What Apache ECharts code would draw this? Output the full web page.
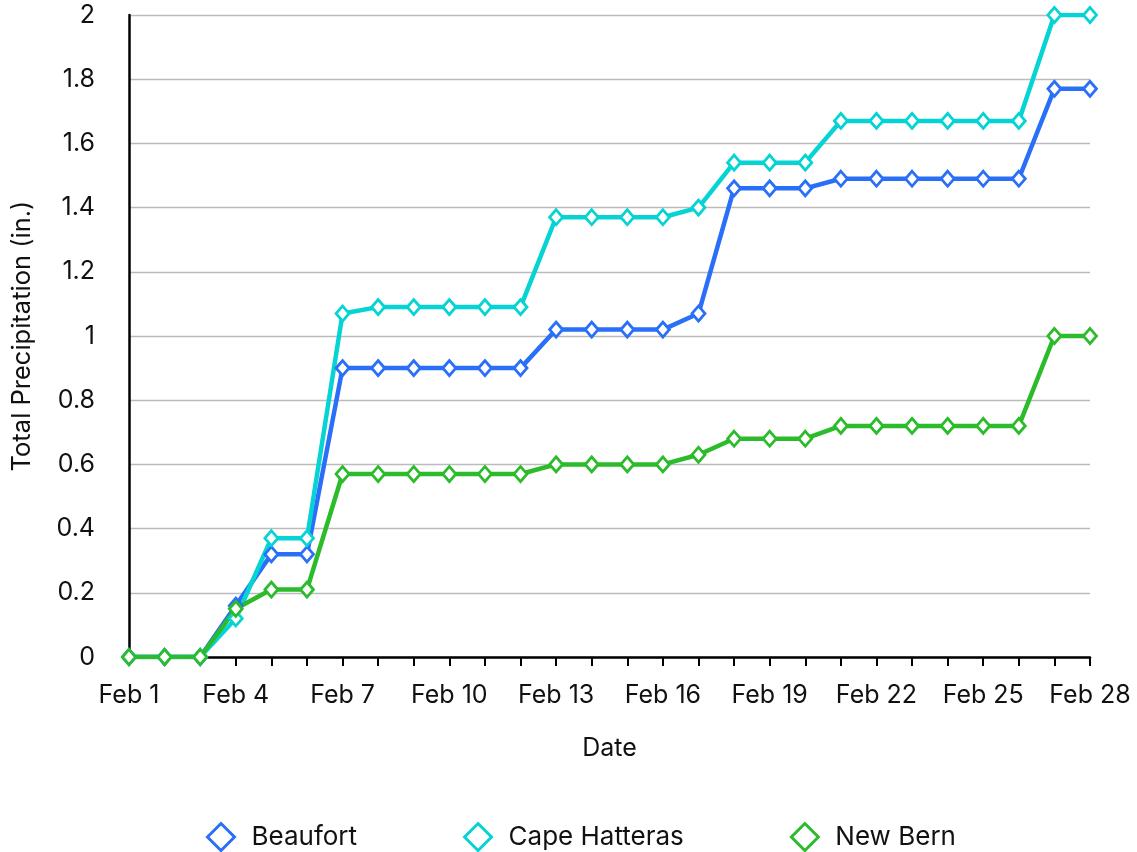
<!DOCTYPE html>
<html><head><meta charset="utf-8">
<script src="https://cdn.jsdelivr.net/npm/echarts@6/dist/echarts.min.js"></script>
<style>html,body{margin:0;padding:0;background:#fff}#c{width:1137px;height:852px}</style>
</head><body><div id="c"></div>
<script>
const dates = ['Feb 1','Feb 2','Feb 3','Feb 4','Feb 5','Feb 6','Feb 7','Feb 8','Feb 9','Feb 10','Feb 11','Feb 12','Feb 13','Feb 14','Feb 15','Feb 16','Feb 17','Feb 18','Feb 19','Feb 20','Feb 21','Feb 22','Feb 23','Feb 24','Feb 25','Feb 26','Feb 27','Feb 28'];
const beaufort = [0,0,0,0.16,0.32,0.32,0.90,0.90,0.90,0.90,0.90,0.90,1.02,1.02,1.02,1.02,1.07,1.46,1.46,1.46,1.49,1.49,1.49,1.49,1.49,1.49,1.77,1.77];
const capeHatteras = [0,0,0,0.12,0.37,0.37,1.07,1.09,1.09,1.09,1.09,1.09,1.37,1.37,1.37,1.37,1.40,1.54,1.54,1.54,1.67,1.67,1.67,1.67,1.67,1.67,2.0,2.0];
const newBern = [0,0,0,0.15,0.21,0.21,0.57,0.57,0.57,0.57,0.57,0.57,0.60,0.60,0.60,0.60,0.63,0.68,0.68,0.68,0.72,0.72,0.72,0.72,0.72,0.72,1.0,1.0];
const seriesNames = ['Beaufort','Cape Hatteras','New Bern'];
const colors = ['#2a6ff7','#06d3d3','#2bbb2b'];
const yTicks = {min:0, max:2, interval:0.2};

const FONT = 'Inter';
const legendTextWidths = [106,178,118];
const chart = echarts.init(document.getElementById('c'));
const mk = (name, data, color) => ({
  name, type:'line', data,
  symbol:'diamond', symbolSize:[13,15], showAllSymbol:true,
  lineStyle:{width:4.5,color},
  itemStyle:{color:'#fff',borderColor:color,borderWidth:2.8},
  emphasis:{disabled:true}
});
chart.setOption({
  animation:false,
  textStyle:{fontFamily:FONT},
  grid:{left:129,right:47,top:15,bottom:195,containLabel:false,outerBoundsMode:'none'},
  legend:{
    top:817, left:201, itemGap:106, itemWidth:27, itemHeight:27,
    icon:'diamond',
    data:seriesNames.map((n,i)=>({name:n,itemStyle:{color:'#fff',borderColor:colors[i],borderWidth:3},
      textStyle:{width:legendTextWidths[i]}})),
    textStyle:{fontFamily:FONT,fontSize:26,color:'#111',padding:[0,0,0,12]}
  },
  xAxis:{
    type:'category', data:dates, boundaryGap:false,
    name:'Date', nameLocation:'middle', nameGap:79,
    nameTextStyle:{fontFamily:FONT,fontSize:25,color:'#111'},
    axisLine:{lineStyle:{color:'#000',width:2.5}},
    axisTick:{show:true,interval:0,length:9,lineStyle:{color:'#000',width:2}},
    axisLabel:{interval:2,margin:26,fontFamily:FONT,fontSize:25,color:'#111'}
  },
  yAxis:{
    type:'value', min:yTicks.min, max:yTicks.max, interval:yTicks.interval,
    name:'Total Precipitation (in.)', nameLocation:'middle', nameGap:94, nameRotate:90,
    nameTextStyle:{fontFamily:FONT,fontSize:25.5,color:'#111'},
    axisLine:{show:true,lineStyle:{color:'#000',width:2.5}},
    axisTick:{show:false},
    splitLine:{lineStyle:{color:'#bbb',width:1.3}},
    axisLabel:{margin:34,fontFamily:FONT,fontSize:25,color:'#111',formatter:v=>String(+v.toFixed(1))}
  },
  series:[mk(seriesNames[0],beaufort,colors[0]), mk(seriesNames[1],capeHatteras,colors[1]), mk(seriesNames[2],newBern,colors[2])]
});
</script></body></html>
